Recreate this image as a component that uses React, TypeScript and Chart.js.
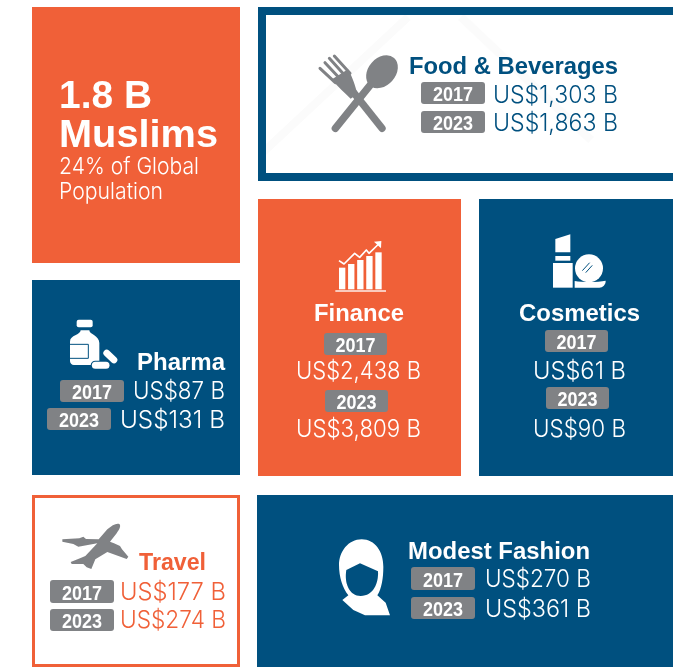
import React, { useEffect, useRef } from "react";
import { Chart, registerables } from "chart.js";

Chart.register(...registerables);

// ---- data ----
const sectors = ["Food & Beverages", "Finance", "Cosmetics", "Pharma", "Travel", "Modest Fashion"];
const values2017 = [1303, 2438, 61, 87, 177, 270];
const values2023 = [1863, 3809, 90, 131, 274, 361];
const years = ["2017", "2023"];
const headlineLines = ["1.8 B", "Muslims"];
const sublineLines = ["24% of Global", "Population"];

// ---- layout and style ----
const W = 673;
const H = 668;
const ORANGE = "#f06038";
const NAVY = "#00507f";
const GRAY = "#808285";
const FAINT = "#fbfbfb";
const BOLD = "Liberation Sans";
const LIGHT = "Inter";

type Box = [number, number, number, number];
type Line = [number, number, number];
const foodInner: Box = [266, 15, 673, 172];
const tiles: { box: Box; fill: string; border?: string; bw?: number }[] = [
  { box: [32, 7, 240, 263], fill: ORANGE },
  { box: [258, 7, 690, 181], fill: "#ffffff", border: NAVY, bw: 8 },
  { box: [258, 199, 461, 476], fill: ORANGE },
  { box: [479, 199, 673, 476], fill: NAVY },
  { box: [32, 280, 240, 475], fill: NAVY },
  { box: [32, 495, 240, 667], fill: "#ffffff", border: ORANGE, bw: 3 },
  { box: [257, 495, 673, 667], fill: NAVY },
];
const blocks: { title: Line; titleColor: string; valueColor: string; badges: Box[]; vals: Line[] }[] = [
  { title: [409, 618, 74], titleColor: NAVY, valueColor: NAVY,
    badges: [[421, 82, 485, 104], [421, 111, 485, 133]], vals: [[493, 618, 103], [493, 618, 131]] },
  { title: [314, 404, 321], titleColor: "#fff", valueColor: "#fff",
    badges: [[324, 333, 387, 355], [325, 390, 388, 412]], vals: [[296, 421, 379], [296, 421, 437]] },
  { title: [519, 640, 321], titleColor: "#fff", valueColor: "#fff",
    badges: [[545, 330, 608, 352], [546, 387, 609, 409]], vals: [[533, 626, 379], [533, 626, 437]] },
  { title: [137, 225, 370], titleColor: "#fff", valueColor: "#fff",
    badges: [[60, 380, 124, 402], [47, 408, 111, 430]], vals: [[133, 225, 399], [120, 225, 428]] },
  { title: [139, 206, 570], titleColor: ORANGE, valueColor: ORANGE,
    badges: [[50, 580, 114, 603], [50, 609, 114, 631]], vals: [[120, 226, 600], [120, 226, 628]] },
  { title: [408, 590, 559], titleColor: "#fff", valueColor: "#fff",
    badges: [[411, 567, 475, 590], [411, 597, 475, 619]], vals: [[485, 591, 587], [485, 591, 617]] },
];
const headlinePos: Line[] = [[59, 152, 108], [59, 218, 147]];
const sublinePos: Line[] = [[59, 199, 174], [59, 163, 199]];

const financeBars = [218, 207, 195, 183, 172];
const faintBands: Box[] = [
  [258, 157, 408, 17],
  [461, 17, 591, 140],
];

const usd = (v: number) => `US$${v.toLocaleString("en-US")} B`;

const infographic = {
  id: "infographic",
  afterDatasetsDraw(chart: any) {
    const { ctx } = chart;
    const X = (v: number) => chart.scales.x.getPixelForValue(v);
    const Y = (v: number) => chart.scales.y.getPixelForValue(v);

    const fit = (s: string, [x0, x1, base]: Line, font: string, color: string) => {
      ctx.save();
      ctx.font = font;
      ctx.fillStyle = color;
      ctx.textAlign = "left";
      ctx.textBaseline = "alphabetic";
      const w = ctx.measureText(s).width;
      ctx.translate(X(x0), Y(base));
      ctx.scale((X(x1) - X(x0)) / w, 1);
      ctx.fillText(s, 0, 0);
      ctx.restore();
    };
    const icon = (ox: number, oy: number, draw: () => void) => {
      ctx.save();
      ctx.translate(X(ox), Y(oy));
      ctx.scale(1 / 3, 1 / 3);
      draw();
      ctx.restore();
    };
    const fillPath = (d: string, c: string) => {
      ctx.fillStyle = c;
      ctx.fill(new Path2D(d));
    };
    const strokePath = (d: string, c: string, w: number, cap = "round") => {
      ctx.strokeStyle = c;
      ctx.lineWidth = w;
      ctx.lineCap = cap;
      ctx.lineJoin = "round";
      ctx.stroke(new Path2D(d));
    };

    // tiles
    tiles.forEach(({ box: [x0, y0, x1, y1], fill, border, bw }) => {
      ctx.fillStyle = border || fill;
      ctx.fillRect(X(x0), Y(y0), X(x1) - X(x0), Y(y1) - Y(y0));
      if (border && bw) {
        ctx.fillStyle = fill;
        ctx.fillRect(X(x0 + bw), Y(y0 + bw), X(x1 - bw) - X(x0 + bw), Y(y1 - bw) - Y(y0 + bw));
      }
    });

    // faint watermark bands, only inside the white food tile
    ctx.save();
    ctx.beginPath();
    ctx.rect(X(foodInner[0]), Y(foodInner[1]), X(foodInner[2]) - X(foodInner[0]), Y(foodInner[3]) - Y(foodInner[1]));
    ctx.clip();
    ctx.strokeStyle = FAINT;
    ctx.lineWidth = 8;
    faintBands.forEach(([x0, y0, x1, y1]) => {
      ctx.beginPath();
      ctx.moveTo(X(x0), Y(y0));
      ctx.lineTo(X(x1), Y(y1));
      ctx.stroke();
    });
    ctx.restore();

    // headline tile
    headlineLines.forEach((s, i) => fit(s, headlinePos[i], `bold 39px "${BOLD}"`, "#fff"));
    sublineLines.forEach((s, i) => fit(s, sublinePos[i], `300 23px "${LIGHT}"`, "#fff"));

    // sector blocks
    const names: string[] = chart.data.labels;
    names.forEach((name, i) => {
      const b = blocks[i];
      fit(name, b.title, `bold 24px "${BOLD}"`, b.titleColor);
      chart.data.datasets.forEach((ds: any, k: number) => {
        const [x0, y0, x1, y1] = b.badges[k];
        ctx.fillStyle = GRAY;
        ctx.beginPath();
        ctx.roundRect(X(x0), Y(y0), X(x1) - X(x0), Y(y1) - Y(y0), 3);
        ctx.fill();
        const cx = (x0 + x1) / 2;
        fit(ds.label, [cx - 20, cx + 20, y1 - 3.5], `bold 21px "${BOLD}"`, "#fff");
        fit(usd(ds.data[i]), b.vals[k], `300 24px "${LIGHT}"`, b.valueColor);
      });
    });

    // fork and spoon
    icon(258, 0, () => {
      strokePath("M372 385 L285 275", GRAY, 22);
      strokePath("M232 385 L345 245", GRAY, 22);
      ctx.save();
      ctx.translate(372, 215);
      ctx.rotate(0.72);
      ctx.fillStyle = GRAY;
      ctx.beginPath();
      ctx.ellipse(0, 0, 41, 55, 0, 0, Math.PI * 2);
      ctx.fill();
      ctx.restore();
      fillPath("M222 238 L270 208 C285 235 292 258 298 282 L278 296 C262 280 240 262 222 238 Z", GRAY);
      strokePath("M186 205 L232 248", GRAY, 9);
      strokePath("M201 188 L246 236", GRAY, 9);
      strokePath("M214 175 L260 226", GRAY, 9);
      strokePath("M229 168 L276 220", GRAY, 9);
    });

    // finance bars and trend
    icon(258, 195, () => {
      financeBars.forEach((top, i) => {
        const x = 243 + i * 27.25;
        ctx.fillStyle = "#fff";
        ctx.fillRect(x, top, 19, 283 - top);
      });
      ctx.fillStyle = "#fff";
      ctx.fillRect(232, 286, 152, 4);
      strokePath("M243 197 L258 207 L290 175 L305 187 L325 165 L333 175 L362 147", "#fff", 5, "butt");
      fillPath("M370 138 L369 160 L348 140 Z", "#fff");
    });

    // lipstick and compact
    icon(258, 195, () => {
      fillPath("M892 132 L937 118 L937 172 L892 172 Z", "#fff");
      ctx.fillStyle = "#fff";
      ctx.fillRect(892, 183, 45, 14);
      ctx.fillRect(885, 204, 59, 74);
      ctx.beginPath();
      ctx.arc(993, 220, 42, 0, Math.PI * 2);
      ctx.fill();
      fillPath("M950 258 C975 262 1020 262 1043 257 C1044 268 1034 278 1024 278 L950 278 Z", "#fff");
      strokePath("M974 226 L994 204", NAVY, 3);
      strokePath("M984 232 L1002 212", NAVY, 3);
    });

    // pharma bottle and pills
    icon(20, 275, () => {
      ctx.fillStyle = "#fff";
      ctx.beginPath();
      ctx.roundRect(170, 134, 48, 23, 6);
      ctx.fill();
      fillPath("M182 166 L208 166 C208 178 238 182 238 204 L238 258 C238 266 232 270 226 270 L162 270 C155 270 150 264 150 258 L150 200 C150 180 182 180 182 166 Z", "#fff");
      strokePath("M146 208 L205 208 L205 250 L146 250", NAVY, 3, "butt");
      strokePath("M260 234 L282 255", NAVY, 28);
      strokePath("M260 234 L282 255", "#fff", 20);
      strokePath("M226 271 L258 271", NAVY, 28);
      strokePath("M226 271 L258 271", "#fff", 21);
    });

    // plane
    icon(20, 490, () => {
      fillPath("M298 102 C304 108 298 118 290 130 L270 155 L282 160 L300 168 L306 178 L325 200 L320 207 L262 186 L226 208 L214 237 L200 232 L190 222 L155 222 L152 216 L180 205 L196 198 L232 160 L175 170 L160 162 L127 155 L127 148 L178 145 L190 140 L198 147 L236 148 L262 118 C275 106 290 98 298 102 Z", GRAY);
    });

    // hijab
    icon(320, 510, () => {
      fillPath("M125 88 C165 88 190 125 190 170 C190 205 185 235 172 256 L197 278 L210 316 L135 316 L100 300 L67 270 L85 256 C68 235 57 200 57 165 C57 125 85 88 125 88 Z", "#fff");
      fillPath("M120 160 L174 184 C176 220 160 258 122 258 C88 258 72 220 79 180 Z", NAVY);
    });
  },
};

export default function App() {
  const ref = useRef<HTMLCanvasElement>(null);
  useEffect(() => {
    const chart = new Chart(ref.current!, {
      type: "scatter",
      data: {
        labels: sectors,
        datasets: [
          { label: years[0], data: values2017, pointRadius: 0, showLine: false },
          { label: years[1], data: values2023, pointRadius: 0, showLine: false },
        ],
      } as any,
      plugins: [infographic],
      options: {
        animation: false,
        responsive: false,
        devicePixelRatio: 1,
        layout: { padding: 0 },
        parsing: false,
        plugins: { legend: { display: false }, tooltip: { enabled: false }, title: { display: false } },
        scales: {
          x: { type: "linear", display: false, min: 0, max: W },
          y: { type: "linear", display: false, min: 0, max: H, reverse: true },
        },
      } as any,
    });
    return () => chart.destroy();
  }, []);
  return (
    <div style={{ position: "absolute", left: 0, top: 0, width: W, height: H, background: "#fff" }}>
      <canvas ref={ref} width={W} height={H} style={{ display: "block" }} />
    </div>
  );
}
